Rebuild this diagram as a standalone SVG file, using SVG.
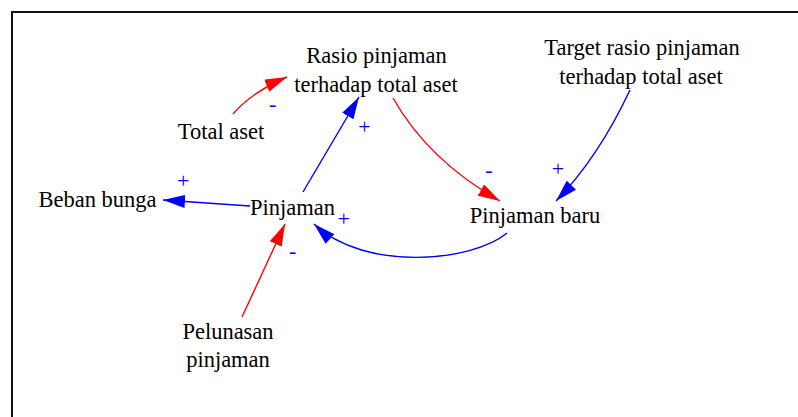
<svg xmlns="http://www.w3.org/2000/svg" width="798" height="417" viewBox="0 0 798 417">
  <defs>
    <style>
      .lbl { font-family: "Liberation Serif", "Times New Roman", serif; font-size: 22.5px; fill: #000; text-anchor: middle; }
      .sign { font-family: "Liberation Serif", "Times New Roman", serif; font-size: 22px; fill: #0000ff; text-anchor: middle; }
      .pos { fill: none; stroke: #0000ff; stroke-width: 1.4; marker-end: url(#headBlue); }
      .neg { fill: none; stroke: #ff0000; stroke-width: 1.4; marker-end: url(#headRed); }
    </style>
    <marker id="headBlue" markerUnits="userSpaceOnUse" markerWidth="22" markerHeight="13" refX="22" refY="6.5" orient="auto" viewBox="0 0 22 13">
      <path d="M0,0 L22,6.5 L0,13 z" fill="#0000ff"/>
    </marker>
    <marker id="headRed" markerUnits="userSpaceOnUse" markerWidth="22" markerHeight="13" refX="22" refY="6.5" orient="auto" viewBox="0 0 22 13">
      <path d="M0,0 L22,6.5 L0,13 z" fill="#ff0000"/>
    </marker>
  </defs>

  <rect width="798" height="417" fill="#fff"/>
  <!-- frame -->
  <rect x="12" y="12" width="800" height="420" fill="none" stroke="#111" stroke-width="2"/>

  <!-- connectors -->
  <g id="links">
    <path class="neg" d="M233,114 Q252,92 287,77"/>
    <path class="pos" d="M303,192 L359,97"/>
    <path class="neg" d="M393,98 Q428,160 500,201"/>
    <path class="pos" d="M630,90 Q598,158 556,201"/>
    <path class="pos" d="M507,233 C472,262 365,272 314,224"/>
    <path class="neg" d="M242,317 L285,224"/>
    <path class="pos" d="M250,206 L163,200"/>

    <text class="sign" x="272.7" y="111">-</text>
    <text class="sign" x="364.5" y="134">+</text>
    <text class="sign" x="183.3" y="187.5">+</text>
    <text class="sign" x="489" y="177">-</text>
    <text class="sign" x="558" y="175.5">+</text>
    <text class="sign" x="343.7" y="225.5">+</text>
    <text class="sign" x="292.7" y="257.5">-</text>
  </g>

  <!-- nodes -->
  <g id="rasio">
    <text class="lbl" x="376.5" y="63">Rasio pinjaman</text>
    <text class="lbl" x="376" y="92">terhadap total aset</text>
  </g>
  <g id="target">
    <text class="lbl" x="642" y="55">Target rasio pinjaman</text>
    <text class="lbl" x="641" y="84">terhadap total aset</text>
  </g>
  <g id="total-aset">
    <text class="lbl" x="221" y="139">Total aset</text>
  </g>
  <g id="beban-bunga">
    <text class="lbl" x="97.5" y="207">Beban bunga</text>
  </g>
  <g id="pinjaman">
    <text class="lbl" x="292.5" y="215">Pinjaman</text>
  </g>
  <g id="pinjaman-baru">
    <text class="lbl" x="535" y="223">Pinjaman baru</text>
  </g>
  <g id="pelunasan">
    <text class="lbl" x="228" y="339">Pelunasan</text>
    <text class="lbl" x="228" y="367">pinjaman</text>
  </g>
</svg>
